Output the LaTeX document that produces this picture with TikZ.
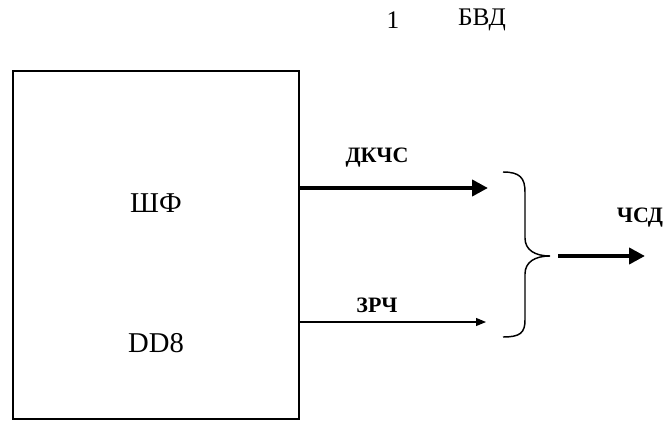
\documentclass[tikz,border=0pt]{standalone}
\usepackage{fontspec}
\setmainfont{Liberation Serif}
\usetikzlibrary{arrows.meta,positioning}

\begin{document}
\begin{tikzpicture}[
    x=0.75pt, y=-0.75pt,
    block/.style={
      rectangle, draw=black, line width=1.5pt,
      minimum width=214.5pt, minimum height=261pt,
      inner sep=0pt
    },
    txt/.style={font=\fontsize{21.5}{25}\selectfont, inner sep=0pt},
    head/.style={font=\fontsize{19}{22}\selectfont, inner sep=0pt},
    sig/.style={font=\fontsize{16.5}{19}\selectfont\bfseries, inner sep=0pt},
    arrfat/.style={-{Triangle[length=12pt,width=12pt]}, line width=3.6pt},
    arrthin/.style={-{Triangle[length=7.5pt,width=6pt]}, line width=0.8pt},
    bracep/.style={line width=1.1pt},
  ]
  \useasboundingbox (0,0) rectangle (669,421);

  % Header
  \node[head] (num) at (393,20) {1};
  \node[head] (bvd) at (482,20) {БВД};

  % Block
  \node[block] (shf) at (156,245) {};
  \node[txt] (shflab) at (156,203) {ШФ};
  \node[txt] (dd)     at (156,343) {DD8};

  % Signals
  \coordinate (dkEnd) at (488,188);
  \coordinate (zrEnd) at (486,322);
  \draw[arrfat]  (shf.east |- dkEnd) -- (dkEnd);
  \draw[arrthin] (shf.east |- zrEnd) -- (zrEnd);
  \node[sig] (dkchs) at (377,158) {ДКЧС};
  \node[sig] (zrch)  at (377,305) {ЗРЧ};

  % Brace
  \coordinate (tip) at (550,256);
  \draw[bracep] (503,172) .. controls (520,172) and (525,178) .. (525,192)
    -- (525,238) .. controls (525,250) and (535,256) .. (tip)
    .. controls (535,256) and (525,262) .. (525,274)
    -- (525,320) .. controls (525,333) and (520,337) .. (503,337);

  % Output
  \coordinate (outStart) at (558,256);
  \coordinate (outEnd)   at (645,256);
  \draw[arrfat] (outStart) -- (outEnd);
  \node[sig] (chsd) at (640,218) {ЧСД};

\end{tikzpicture}
\end{document}
